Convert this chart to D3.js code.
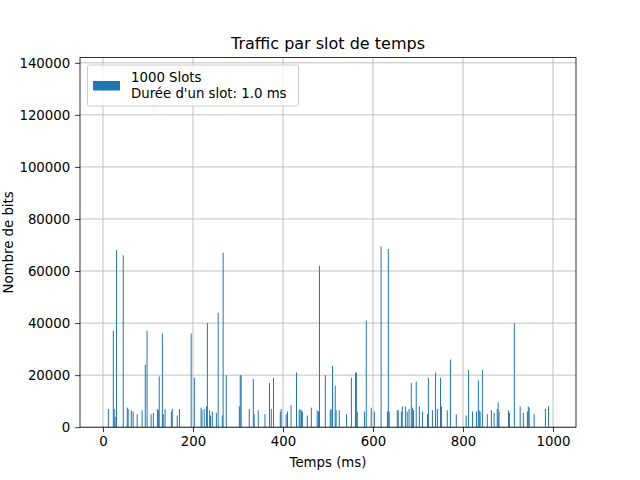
<!DOCTYPE html>
<html>
<head>
<script src="https://cdn.jsdelivr.net/npm/d3@7"></script>
<style>
  body { margin: 0; background: #fff; }
  svg text { font-family: "DejaVu Sans", sans-serif; fill: #000; }
</style>
</head>
<body>
<svg id="chart" width="640" height="480"></svg>
<script>
// slot time (ms) and bits observed in that slot
var slots = [12,23,25,27,30,45,54,56,63,67,76,87,94,98,107,112,121,123,125,132,134,138,152,154,165,170,
  196,203,218,220,225,230,232,237,239,243,252,256,265,267,274,303,305,307,325,334,336,
  345,360,370,374,379,394,396,407,410,418,430,436,438,441,443,454,463,476,479,481,494,505,507,510,516,518,525,
  541,552,561,563,565,581,585,596,603,618,632,634,636,654,656,663,665,672,676,680,
  685,688,690,696,703,710,721,723,732,739,743,750,752,765,772,785,807,812,821,830,834,836,838,843,854,863,869,
  876,878,880,901,903,914,927,934,943,945,947,958,983,990];
var bits = [7000,37000,7000,4000,68000,66000,7500,7000,6500,6000,5000,6500,24000,37000,5000,5500,7000,6500,19500,36000,5000,7000,6000,7000,4500,7000,
  36000,19000,7500,6500,7000,8000,40000,6500,4500,6000,5500,44000,4500,67000,20000,8000,20000,20000,7000,18500,5000,
  6500,5000,17000,7000,19000,6000,7000,5000,6000,8500,21000,6500,7000,6500,6000,4500,7500,6500,6000,62000,20000,6500,7000,23500,16000,6500,6500,
  5000,19000,21000,21000,6000,6000,41000,7500,6000,69500,6000,68500,6000,6500,6500,6000,8000,8000,6000,7000,
  17000,7500,6500,17500,8000,6000,5000,19000,6500,21000,7000,19000,8000,6500,26000,5000,4500,22000,6000,6000,18000,6500,6000,22000,5000,6500,5500,
  7000,9500,6000,6500,5500,40000,8000,5500,6000,8000,7500,5000,7000,8000];
var xTicks = [0, 200, 400, 600, 800, 1000];
var yTicks = [0, 20000, 40000, 60000, 80000, 100000, 120000, 140000];

var m = {left: 80, right: 576, top: 57.6, bottom: 427.2};
var svg = d3.select("#chart");

var x = d3.scaleLinear().domain([-51, 1051]).range([m.left, m.right]);
var y = d3.scaleLinear().domain([0, 142000]).range([m.bottom, m.top]);

// grid
svg.append("g").selectAll("line").data(xTicks).enter().append("line")
  .attr("x1", d => x(d)).attr("x2", d => x(d)).attr("y1", m.top).attr("y2", m.bottom)
  .attr("stroke", "#b0b0b0").attr("stroke-width", 0.8);
svg.append("g").selectAll("line").data(yTicks).enter().append("line")
  .attr("x1", m.left).attr("x2", m.right).attr("y1", d => y(d)).attr("y2", d => y(d))
  .attr("stroke", "#b0b0b0").attr("stroke-width", 0.8);

// bars
var bw = Math.max(1, x(0.8) - x(0));
svg.append("g").selectAll("rect").data(slots).enter().append("rect")
  .attr("x", d => x(d) - bw / 2)
  .attr("width", bw)
  .attr("y", (d, i) => y(bits[i]))
  .attr("height", (d, i) => y(0) - y(bits[i]))
  .attr("fill", "#1f77b4");

// axes
var xa = svg.append("g").attr("transform", "translate(0," + m.bottom + ")")
  .call(d3.axisBottom(x).tickValues(xTicks).tickSize(4.9).tickPadding(4.9).tickFormat(d3.format("d")));
var ya = svg.append("g").attr("transform", "translate(" + m.left + ",0)")
  .call(d3.axisLeft(y).tickValues(yTicks).tickSize(4.9).tickPadding(4.9).tickFormat(d3.format("d")));
[xa, ya].forEach(function (g) {
  g.select(".domain").remove();
  g.selectAll("text").style("font-size", "13.3px").style("font-family", "DejaVu Sans");
  g.selectAll("line").attr("stroke", "#000").attr("stroke-width", 0.8);
});
svg.append("rect").attr("x", m.left).attr("y", m.top)
  .attr("width", m.right - m.left).attr("height", m.bottom - m.top)
  .attr("fill", "none").attr("stroke", "#000").attr("stroke-width", 0.8);

// labels
svg.append("text").attr("x", (m.left + m.right) / 2).attr("y", 49)
  .attr("text-anchor", "middle").style("font-size", "16px").text("Traffic par slot de temps");
svg.append("text").attr("x", (m.left + m.right) / 2).attr("y", 467)
  .attr("text-anchor", "middle").style("font-size", "13.3px").text("Temps (ms)");
svg.append("text").attr("transform", "translate(8," + ((m.top + m.bottom) / 2) + ") rotate(-90)")
  .attr("text-anchor", "middle").attr("dy", "0.35em").style("font-size", "13.3px").text("Nombre de bits");

// legend
var lg = svg.append("g");
lg.append("rect").attr("x", 87.5).attr("y", 65).attr("width", 211).attr("height", 41).attr("rx", 2)
  .attr("fill", "#fff").attr("fill-opacity", 0.8).attr("stroke", "#cccccc");
lg.append("rect").attr("x", 93).attr("y", 81).attr("width", 27).attr("height", 9.5).attr("fill", "#1f77b4");
lg.append("text").attr("x", 131).attr("y", 82).style("font-size", "13.3px").text("1000 Slots");
lg.append("text").attr("x", 131).attr("y", 98).style("font-size", "13.3px").text("Durée d'un slot: 1.0 ms");
</script>
</body>
</html>
